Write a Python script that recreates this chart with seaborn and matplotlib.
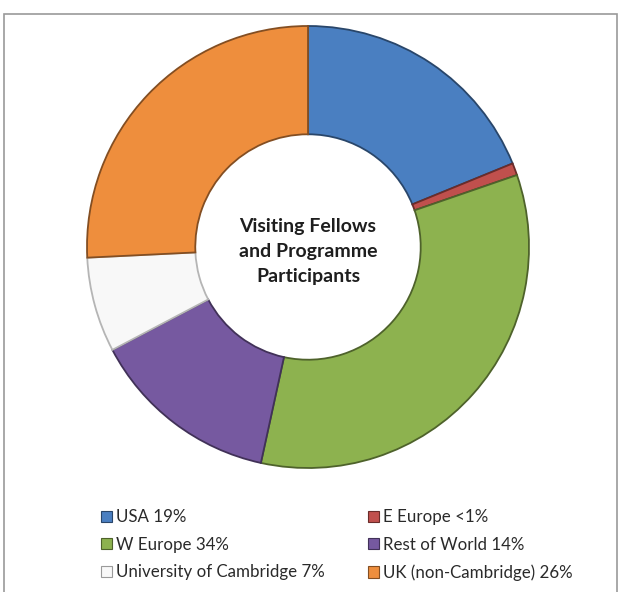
import matplotlib
matplotlib.use("Agg")
import matplotlib.pyplot as plt
import seaborn as sns
from matplotlib.patches import Patch, Rectangle
from matplotlib.colors import to_rgb

sns.set_theme(style="white")
plt.rcParams["font.family"] = ["Lato", "DejaVu Sans"]

# data (clockwise from 12 o'clock)
regions = ["USA", "E Europe", "W Europe", "Rest of World",
           "University of Cambridge", "UK (non-Cambridge)"]
shares = [19, 0.9, 34, 14, 7, 26]
legend_labels = ["USA 19%", "E Europe <1%", "W Europe 34%", "Rest of World 14%",
                 "University of Cambridge 7%", "UK (non-Cambridge) 26%"]
colors = ["#4A7FC1", "#C0504D", "#8DB24F", "#7659A0", "#F8F8F8", "#EE8E3D"]
title = "Visiting Fellows\nand Programme\nParticipants"


def darker(c, f=0.55):
    r, g, b = to_rgb(c)
    return (r * f, g * f, b * f)


W, H = 620, 592
fig = plt.figure(figsize=(W / 100, H / 100), dpi=100)
fig.patch.set_facecolor("white")

# outer frame
fig.add_artist(Rectangle((4 / W, -0.02), 613 / W, 1.02 - 14 / H,
                         transform=fig.transFigure, fill=False,
                         edgecolor="#9a9a9a", linewidth=1.2))

cx, cy, r = 308, 247, 221
ax = fig.add_axes([(cx - r) / W, (H - cy - r) / H, 2 * r / W, 2 * r / H])
wedges, _ = ax.pie(shares, colors=colors, startangle=90, counterclock=False,
                   radius=1.0, wedgeprops=dict(width=0.49, linewidth=1.3))
for w, c in zip(wedges, colors):
    w.set_edgecolor(darker(c) if c != "#F8F8F8" else "#b5b5b5")
ax.set_xlim(-1.0, 1.0)
ax.set_ylim(-1.0, 1.0)
ax.set_aspect("equal")
ax.axis("off")

ax.text(0, -0.02, title, ha="center", va="center", fontsize=14,
        fontweight="bold", color="#1e1e1e", linespacing=1.55)

# legend, filled column by column
order = [0, 2, 4, 1, 3, 5]
handles = [Patch(facecolor=colors[i],
                 edgecolor=darker(colors[i]) if i != 4 else "#9a9a9a",
                 linewidth=0.8, label=legend_labels[i]) for i in order]
fig.legend(handles=handles, ncol=2, loc="upper left",
           bbox_to_anchor=(86 / W, 1 - 494 / H), frameon=False,
           fontsize=12.2, handlelength=0.65, handleheight=0.65,
           handletextpad=0.25, columnspacing=2.5, labelspacing=0.68,
           labelcolor="#2a2a2a")

fig.savefig("out.png", dpi=100)
